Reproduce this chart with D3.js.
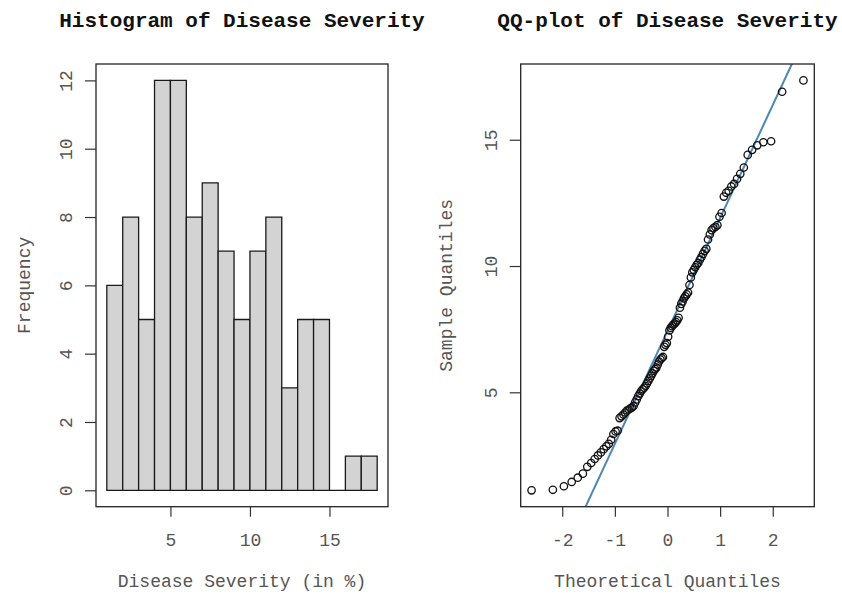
<!DOCTYPE html>
<html>
<head>
<meta charset="utf-8">
<script src="https://cdn.jsdelivr.net/npm/d3@7"></script>
<style>
  body { margin: 0; background: #fff; }
  text { font-family: "Liberation Mono", "Courier New", monospace; }
  .title { font-weight: bold; font-size: 21px; fill: #111; }
  .tick text { font-size: 18px; fill: #555; }
  .tick line { stroke: #333; stroke-width: 1.2; }
  .axis-label { font-size: 18px; fill: #555; }
</style>
</head>
<body>
<svg width="842" height="597"></svg>
<script>
const svg = d3.select('svg');

// histogram
const breaks = [1, 2, 3, 4, 5, 6, 7, 8, 9, 10, 11, 12, 13, 14, 15, 16, 17, 18];
const frequencies = [6, 8, 5, 12, 12, 8, 9, 7, 5, 7, 8, 3, 5, 5, 0, 1, 1];
const histTicksX = [5, 10, 15];
const histTicksY = [0, 2, 4, 6, 8, 10, 12];

// sorted sample values for the QQ-plot
const sampleQuantiles = [
  1.12, 1.14, 1.28, 1.45, 1.62, 1.78, 2.05, 2.20, 2.36, 2.50,
  2.62, 2.75, 2.86, 2.96, 3.12, 3.35, 3.45, 3.48, 3.98, 4.05,
  4.12, 4.20, 4.28, 4.32, 4.36, 4.40, 4.46, 4.60, 4.72, 4.85,
  4.95, 5.05, 5.12, 5.18, 5.25, 5.35, 5.45, 5.55, 5.65, 5.75,
  5.85, 5.92, 5.98, 6.10, 6.22, 6.30, 6.35, 6.40, 6.80, 6.88,
  6.95, 7.20, 7.45, 7.55, 7.62, 7.68, 7.72, 7.78, 7.85, 7.95,
  8.35, 8.50, 8.60, 8.72, 8.80, 8.88, 8.95, 9.25, 9.55, 9.75,
  9.85, 9.95, 10.05, 10.12, 10.25, 10.35, 10.48, 10.60, 10.68, 11.05,
  11.25, 11.42, 11.50, 11.55, 11.62, 11.95, 12.10, 12.75, 12.90, 12.98,
  13.15, 13.25, 13.45, 13.65, 13.90, 14.40, 14.60, 14.78, 14.90, 14.94,
  16.90, 17.35
];
const qqTicksX = [-2, -1, 0, 1, 2];
const qqTicksY = [5, 10, 15];

// inverse normal cdf (Acklam), used for theoretical quantiles
const qnorm = p => {
  const a = [-3.969683028665376e+01, 2.209460984245205e+02, -2.759285104469687e+02, 1.383577518672690e+02, -3.066479806614716e+01, 2.506628277459239e+00];
  const b = [-5.447609879822406e+01, 1.615858368580409e+02, -1.556989798598866e+02, 6.680131188771972e+01, -1.328068155288572e+01];
  const c = [-7.784894002430293e-03, -3.223964580411365e-01, -2.400758277161838e+00, -2.549732539343734e+00, 4.374664141850676e+00, 2.938163982698783e+00];
  const d = [7.784695709041462e-03, 3.224671290700398e-01, 2.445134137142996e+00, 3.754408661907416e+00];
  const plow = 0.02425;
  if (p < plow) {
    const q = Math.sqrt(-2 * Math.log(p));
    return (((((c[0]*q+c[1])*q+c[2])*q+c[3])*q+c[4])*q+c[5]) / ((((d[0]*q+d[1])*q+d[2])*q+d[3])*q+1);
  }
  if (p > 1 - plow) return -qnorm(1 - p);
  const q = p - 0.5, r = q * q;
  return (((((a[0]*r+a[1])*r+a[2])*r+a[3])*r+a[4])*r+a[5])*q / (((((b[0]*r+b[1])*r+b[2])*r+b[3])*r+b[4])*r+1);
};

// R style 4% padded domain
const padded = (lo, hi) => {
  const p = (hi - lo) * 0.04;
  return [lo - p, hi + p];
};

const plotTop = 64, plotBottom = 506.7;
const tickFormat = d => String(d);

const drawFrame = (x0, x1) => {
  svg.append('rect')
    .attr('x', x0).attr('y', plotTop)
    .attr('width', x1 - x0).attr('height', plotBottom - plotTop)
    .attr('fill', 'none')
    .attr('stroke', '#222')
    .attr('stroke-width', 1.3);
};

const drawAxes = (xScale, yScale, xTicks, yTicks, left) => {
  const xAxisG = svg.append('g')
    .attr('transform', `translate(0, ${plotBottom})`)
    .call(d3.axisBottom(xScale).tickValues(xTicks).tickFormat(tickFormat)
      .tickSize(10).tickPadding(17));
  xAxisG.select('.domain').remove();

  const yAxisG = svg.append('g')
    .attr('transform', `translate(${left}, 0)`)
    .call(d3.axisLeft(yScale).tickValues(yTicks).tickFormat(tickFormat).tickSize(11));
  yAxisG.select('.domain').remove();
  yAxisG.selectAll('.tick text')
    .attr('transform', 'rotate(-90)')
    .attr('x', 0)
    .attr('y', -24)
    .attr('dy', 0)
    .attr('text-anchor', 'middle');
};

const drawLabels = (title, xLabel, yLabel, cx, yLabelX) => {
  svg.append('text')
    .attr('class', 'title')
    .attr('x', cx).attr('y', 27)
    .attr('text-anchor', 'middle')
    .text(title);
  svg.append('text')
    .attr('class', 'axis-label')
    .attr('x', cx).attr('y', 587)
    .attr('text-anchor', 'middle')
    .text(xLabel);
  svg.append('text')
    .attr('class', 'axis-label')
    .attr('transform', `translate(${yLabelX}, ${(plotTop + plotBottom) / 2}) rotate(-90)`)
    .attr('text-anchor', 'middle')
    .text(yLabel);
};

// ---------- histogram ----------
const histLeft = 96, histRight = 388;
const hx = d3.scaleLinear()
  .domain(padded(breaks[0], breaks[breaks.length - 1]))
  .range([histLeft, histRight]);
const hy = d3.scaleLinear()
  .domain(padded(0, d3.max(frequencies)))
  .range([plotBottom, plotTop]);

const bins = frequencies.map((f, i) => ({ x0: breaks[i], x1: breaks[i + 1], f }));

svg.append('g').selectAll('path').data(bins)
  .enter().append('path')
    .attr('d', d => `M${hx(d.x0)},${hy(0)}V${hy(d.f)}H${hx(d.x1)}V${hy(0)}Z`)
    .attr('fill', '#d3d3d3')
    .attr('stroke', '#1a1a1a')
    .attr('stroke-width', 1.3);

drawFrame(histLeft, histRight);
drawAxes(hx, hy, histTicksX, histTicksY, histLeft);
drawLabels('Histogram of Disease Severity', 'Disease Severity (in %)', 'Frequency',
  (histLeft + histRight) / 2, 30);

// ---------- QQ-plot ----------
const qqLeft = 520.7, qqRight = 814.3;
const n = sampleQuantiles.length;
const qqData = sampleQuantiles.map((s, i) => ({ t: qnorm((i + 0.5) / n), s }));

const qx = d3.scaleLinear()
  .domain(padded(d3.min(qqData, d => d.t), d3.max(qqData, d => d.t)))
  .range([qqLeft, qqRight]);
const qy = d3.scaleLinear()
  .domain(padded(d3.min(sampleQuantiles), d3.max(sampleQuantiles)))
  .range([plotBottom, plotTop]);

svg.append('clipPath').attr('id', 'qq-clip')
  .append('rect')
    .attr('x', qqLeft).attr('y', plotTop)
    .attr('width', qqRight - qqLeft).attr('height', plotBottom - plotTop);

// qqline through the quartiles
const q1 = d3.quantile(sampleQuantiles, 0.25);
const q3 = d3.quantile(sampleQuantiles, 0.75);
const slope = (q3 - q1) / (qnorm(0.75) - qnorm(0.25));
const intercept = q1 - slope * qnorm(0.25);
const [tMin, tMax] = qx.domain();

svg.append('line')
  .attr('clip-path', 'url(#qq-clip)')
  .attr('x1', qx(tMin)).attr('y1', qy(intercept + slope * tMin))
  .attr('x2', qx(tMax)).attr('y2', qy(intercept + slope * tMax))
  .attr('stroke', '#4f87b4')
  .attr('stroke-width', 2);

svg.append('g').selectAll('circle').data(qqData)
  .enter().append('circle')
    .attr('cx', d => qx(d.t))
    .attr('cy', d => qy(d.s))
    .attr('r', 3.7)
    .attr('fill', 'none')
    .attr('stroke', '#111')
    .attr('stroke-width', 1.3);

drawFrame(qqLeft, qqRight);
drawAxes(qx, qy, qqTicksX, qqTicksY, qqLeft);
drawLabels('QQ-plot of Disease Severity', 'Theoretical Quantiles', 'Sample Quantiles',
  (qqLeft + qqRight) / 2, 452);
</script>
</body>
</html>
